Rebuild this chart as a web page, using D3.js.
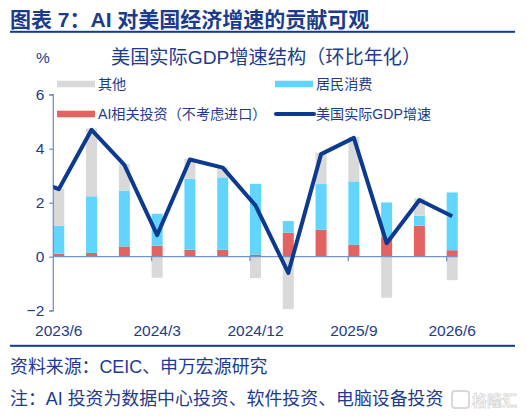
<!DOCTYPE html>
<html><head><meta charset="utf-8">
<script src="https://cdn.jsdelivr.net/npm/d3@7"></script>
<style>
html,body{margin:0;padding:0;background:#fff;}
svg{display:block;}
text{font-family:"Liberation Sans","Noto Sans CJK SC",sans-serif;}
</style></head>
<body>
<script>
// quarters (first one only feeds the line, clipped at the y axis)
const quarters = ["2023/3","2023/6","2023/9","2023/12","2024/3","2024/6","2024/9","2024/12","2025/3","2025/6","2025/9","2025/12","2026/3","2026/6"];
const aiInvest    = [null,0.11,0.14,0.38,0.41,0.26,0.26,0.07,0.89,1.00,0.44,0.72,1.15,0.24];
const consumption = [null,1.04,2.10,2.07,1.18,2.63,2.68,2.63,0.43,1.69,2.35,1.29,0.37,2.14];
const other       = [null,1.37,2.51,0.98,-0.78,0.74,0.37,-0.79,-1.94,1.16,1.65,-1.52,0.64,-0.87];
const gdp         = [3.0,2.5,4.7,3.4,0.8,3.6,3.3,1.9,-0.6,3.8,4.4,0.5,2.1,1.5];
const xTickLabels = ["2023/6","2024/3","2024/12","2025/9","2026/6"];
const yTicks = [-2,0,2,4,6];
const legendNames = ["其他","居民消费","AI相关投资（不考虑进口）","美国实际GDP增速"];

const W=527,H=417;
const C={gray:"#d9d9d9",blue:"#61d5fd",red:"#e36262",line:"#0b3a8f",text:"#1d3b8e",axis:"#7393c9",rule:"#0d3c96"};
const svg=d3.select("body").append("svg").attr("width",W).attr("height",H);

const x=d3.scalePoint().domain(quarters).range([26.0,452.2]);
const y=d3.scaleLinear().domain([-2,6]).range([310.7,94.7]);
const bw=11, axisX=53.3;

// title
svg.append("text").attr("x",10).attr("y",19).attr("dominant-baseline","central")
  .attr("font-size",21).attr("font-weight","bold").attr("fill","#1b3b8d")
  .text("图表 7：AI 对美国经济增速的贡献可观");
svg.append("rect").attr("x",10).attr("y",30.8).attr("width",505).attr("height",2).attr("fill",C.rule);

svg.append("text").attr("x",36).attr("y",57.5).attr("dominant-baseline","central")
  .attr("font-size",15.5).attr("fill",C.text).text("%");
svg.append("text").attr("x",111).attr("y",57.5).attr("dominant-baseline","central")
  .attr("font-size",19.2).attr("fill",C.text).text("美国实际GDP增速结构（环比年化）");

// legend
const leg=[{n:legendNames[0],c:C.gray,x:57,y:84,t:"bar"},{n:legendNames[1],c:C.blue,x:275,y:84,t:"bar"},
           {n:legendNames[2],c:C.red,x:57,y:114,t:"bar"},{n:legendNames[3],c:C.line,x:275,y:114,t:"line"}];
leg.forEach(l=>{
  if(l.t==="bar") svg.append("rect").attr("x",l.x).attr("y",l.y-3.3).attr("width",38).attr("height",6.6).attr("fill",l.c);
  else svg.append("line").attr("x1",l.x+1).attr("x2",l.x+39).attr("y1",l.y).attr("y2",l.y)
    .attr("stroke",l.c).attr("stroke-width",4).attr("stroke-linecap","round");
  svg.append("text").attr("x",l.x+41).attr("y",l.y).attr("dominant-baseline","central")
    .attr("font-size",14.1).attr("fill",C.text).text(l.n);
});

// bars
const g=svg.append("g");
quarters.forEach((q,i)=>{
  if(aiInvest[i]==null) return;
  const x0=x(q)-bw/2;
  const a=aiInvest[i], c=consumption[i], o=other[i];
  const segs=[];
  segs.push({y0:0,y1:a,col:C.red});
  segs.push({y0:a,y1:a+c,col:C.blue});
  if(o>=0) segs.push({y0:a+c,y1:a+c+o,col:C.gray});
  else segs.push({y0:o,y1:0,col:C.gray});
  segs.forEach(s=>{
    g.append("rect").attr("x",x0).attr("width",bw)
      .attr("y",y(Math.max(s.y0,s.y1))).attr("height",Math.abs(y(s.y0)-y(s.y1))).attr("fill",s.col);
  });
});

// axes
const yAxis=d3.axisLeft(y).tickValues(yTicks).tickSize(4).tickPadding(5).tickFormat(d3.format("d"));
const ya=svg.append("g").attr("transform",`translate(${axisX},0)`).call(yAxis);
ya.select(".domain").attr("stroke",C.axis).attr("stroke-width",1.3).attr("d",`M-4,${y(6)}H0V${y(-2)}H-4`);
ya.selectAll(".tick line").attr("stroke",C.axis).attr("stroke-width",1.3);
ya.selectAll(".tick text").attr("fill",C.text).attr("font-size",15.5).attr("font-family",'"Liberation Sans",sans-serif');

const zeroY=y(0);
svg.append("line").attr("x1",axisX).attr("x2",x("2026/6")+bw/2).attr("y1",zeroY).attr("y2",zeroY)
  .attr("stroke",C.axis).attr("stroke-width",1.3);
xTickLabels.forEach(q=>{
  const tx=x(q)-bw/2;
  if(Math.abs(tx-axisX)>1) svg.append("line").attr("x1",tx).attr("x2",tx).attr("y1",zeroY).attr("y2",zeroY+4.5)
    .attr("stroke",C.axis).attr("stroke-width",1.3);
  svg.append("text").attr("x",x(q)).attr("y",330.5).attr("text-anchor","middle").attr("dominant-baseline","central")
    .attr("font-size",15.5).attr("fill",C.text).text(q);
});

// line
svg.append("clipPath").attr("id","clip").append("rect").attr("x",axisX).attr("y",0).attr("width",W-axisX).attr("height",H);
svg.append("path").attr("clip-path","url(#clip)")
  .attr("d",d3.line().x((d,i)=>x(quarters[i])).y(d=>y(d))(gdp))
  .attr("fill","none").attr("stroke",C.line).attr("stroke-width",4).attr("stroke-linejoin","round");

// bottom
svg.append("rect").attr("x",10).attr("y",344.8).attr("width",505).attr("height",2).attr("fill",C.rule);
svg.append("text").attr("x",10).attr("y",366.7).attr("dominant-baseline","central")
  .attr("font-size",17.9).attr("fill",C.text).text("资料来源：CEIC、申万宏源研究");
svg.append("text").attr("x",10).attr("y",399).attr("dominant-baseline","central")
  .attr("font-size",17.9).attr("fill",C.text).text("注：AI 投资为数据中心投资、软件投资、电脑设备投资");

// watermark
const wm=svg.append("g").attr("opacity",0.55);
wm.append("rect").attr("x",452).attr("y",391).attr("width",17).attr("height",17).attr("rx",3)
  .attr("fill","none").attr("stroke","#bbbbbb").attr("stroke-width",2);
wm.append("text").attr("x",472).attr("y",400).attr("dominant-baseline","central")
  .attr("font-size",15).attr("font-weight","bold").attr("fill","#ffffff").attr("stroke","#bbbbbb").attr("stroke-width",0.8).text("格隆汇");
</script>
</body></html>
